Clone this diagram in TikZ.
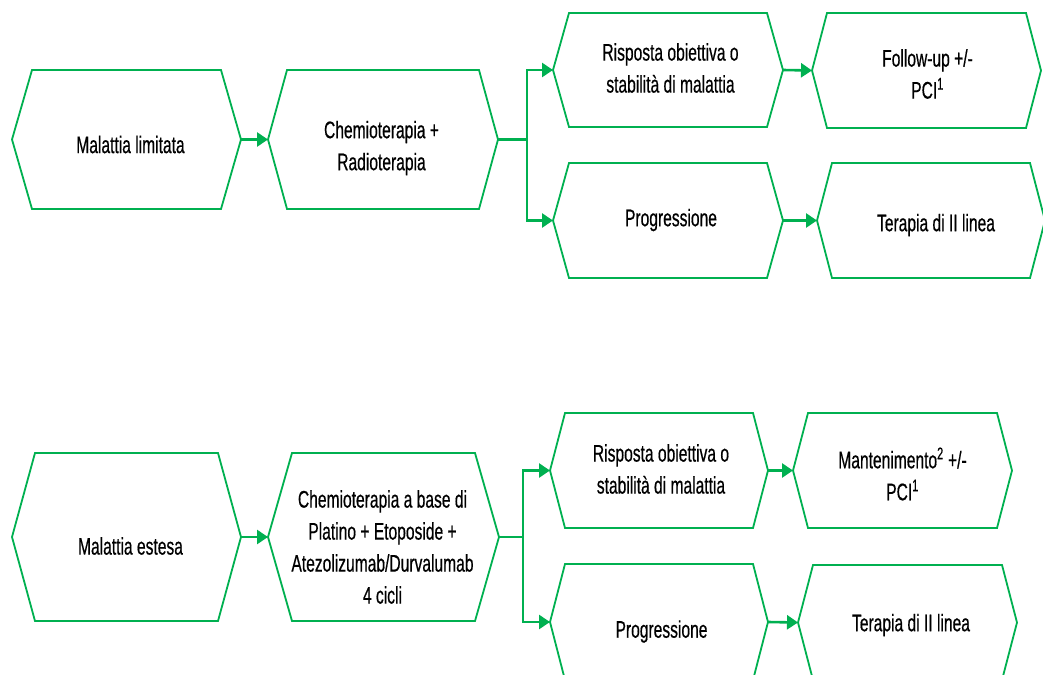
\documentclass[tikz,border=0pt]{standalone}
\usepackage{fontspec}
\setmainfont{Liberation Sans}[FakeStretch=0.65,FakeBold=0.5]
\usetikzlibrary{arrows.meta}
\definecolor{flowgreen}{RGB}{0,176,80}
% outline of a six-sided box drawn round a named node; #2 is the depth of the points
\newcommand\hexpath[2]{%
  \draw[hexline] (#1.west) -- ([xshift=#2]#1.north west) -- ([xshift=-#2]#1.north east)
    -- (#1.east) -- ([xshift=-#2]#1.south east) -- ([xshift=#2]#1.south west) -- cycle;}
\begin{document}
\begin{tikzpicture}[x=1pt,y=-1pt,
  hexbox/.style={draw=none, inner sep=0pt, outer sep=0pt},
  hexline/.style={draw=flowgreen, line width=1.8pt, line join=miter},
  txt/.style={align=center, font=\fontsize{24}{32}\selectfont, inner sep=0pt, text=black},
  flow/.style={draw=flowgreen, line width=2.6pt, -{Triangle[length=11pt,width=14pt]}},
]
\useasboundingbox (0,0) rectangle (1043,674);

% ---- limited disease ----
\node[hexbox, minimum width=229pt, minimum height=139pt] (A1) at (126.5,139.5) {};
\node[hexbox, minimum width=230pt, minimum height=139pt] (A2) at (383,139.5) {};
\node[hexbox, minimum width=230pt, minimum height=114pt] (A3) at (668,70) {};
\node[hexbox, minimum width=230pt, minimum height=115pt] (A4) at (668,220.5) {};
\node[hexbox, minimum width=229pt, minimum height=115pt] (A5) at (926.5,70.5) {};
\node[hexbox, minimum width=228pt, minimum height=115pt] (A6) at (931,220.5) {};
\hexpath{A1}{20pt}
\hexpath{A2}{19pt}
\hexpath{A3}{16pt}
\hexpath{A4}{16pt}
\hexpath{A5}{15pt}
\hexpath{A6}{15pt}

\node[txt] (A1t) at (130.5,144.5) {Malattia limitata};
\node[txt] (A2t) at (381.5,148) {Chemioterapia +\\Radioterapia};
\node[txt] (A3t) at (670.5,68) {Risposta obiettiva o\\stabilità di malattia};
\node[txt] (A4t) at (671,220) {Progressione};
\node[txt] (A5t) at (927.5,74) {Follow-up +/-\\PCI\textsuperscript{1}};
\node[txt] (A6t) at (936,225) {Terapia di II linea};

\coordinate (s1) at (527,139.5);
\draw[flow] (A1.east) -- (A2.west);
\draw[flow] (A2.east) -- (s1) |- (A3.west);
\draw[flow] (s1) |- (A4.west);
\draw[flow] (A3.east) -- (A5.west);
\draw[flow] (A4.east) -- (A6.west);

% ---- extensive disease ----
\node[hexbox, minimum width=229pt, minimum height=168pt] (B1) at (126.5,537) {};
\node[hexbox, minimum width=231pt, minimum height=168pt] (B2) at (383.5,537) {};
\node[hexbox, minimum width=218pt, minimum height=115pt] (B3) at (659,470.5) {};
\node[hexbox, minimum width=218pt, minimum height=116pt] (B4) at (659,622) {};
\node[hexbox, minimum width=219pt, minimum height=115pt] (B5) at (902.5,470.5) {};
\node[hexbox, minimum width=219pt, minimum height=115pt] (B6) at (907.5,622.5) {};
\hexpath{B1}{23pt}
\hexpath{B2}{24pt}
\hexpath{B3}{15pt}
\hexpath{B4}{15pt}
\hexpath{B5}{15pt}
\hexpath{B6}{15pt}

\node[txt] (B1t) at (130.5,546) {Malattia estesa};
\node[txt] (B2t) at (382.5,547) {Chemioterapia a base di\\Platino + Etoposide +\\Atezolizumab/Durvalumab\\4 cicli};
\node[txt] (B3t) at (661,469) {Risposta obiettiva o\\stabilità di malattia};
\node[txt] (B4t) at (661.5,631.5) {Progressione};
\node[txt] (B5t) at (902.5,474) {Mantenimento\textsuperscript{2} +/-\\PCI\textsuperscript{1}};
\node[txt] (B6t) at (911,625) {Terapia di II linea};

\coordinate (s2) at (523,537);
\draw[flow] (B1.east) -- (B2.west);
\draw[flow] (B2.east) -- (s2) |- (B3.west);
\draw[flow] (s2) |- (B4.west);
\draw[flow] (B3.east) -- (B5.west);
\draw[flow] (B4.east) -- (B6.west);
\end{tikzpicture}
\end{document}
